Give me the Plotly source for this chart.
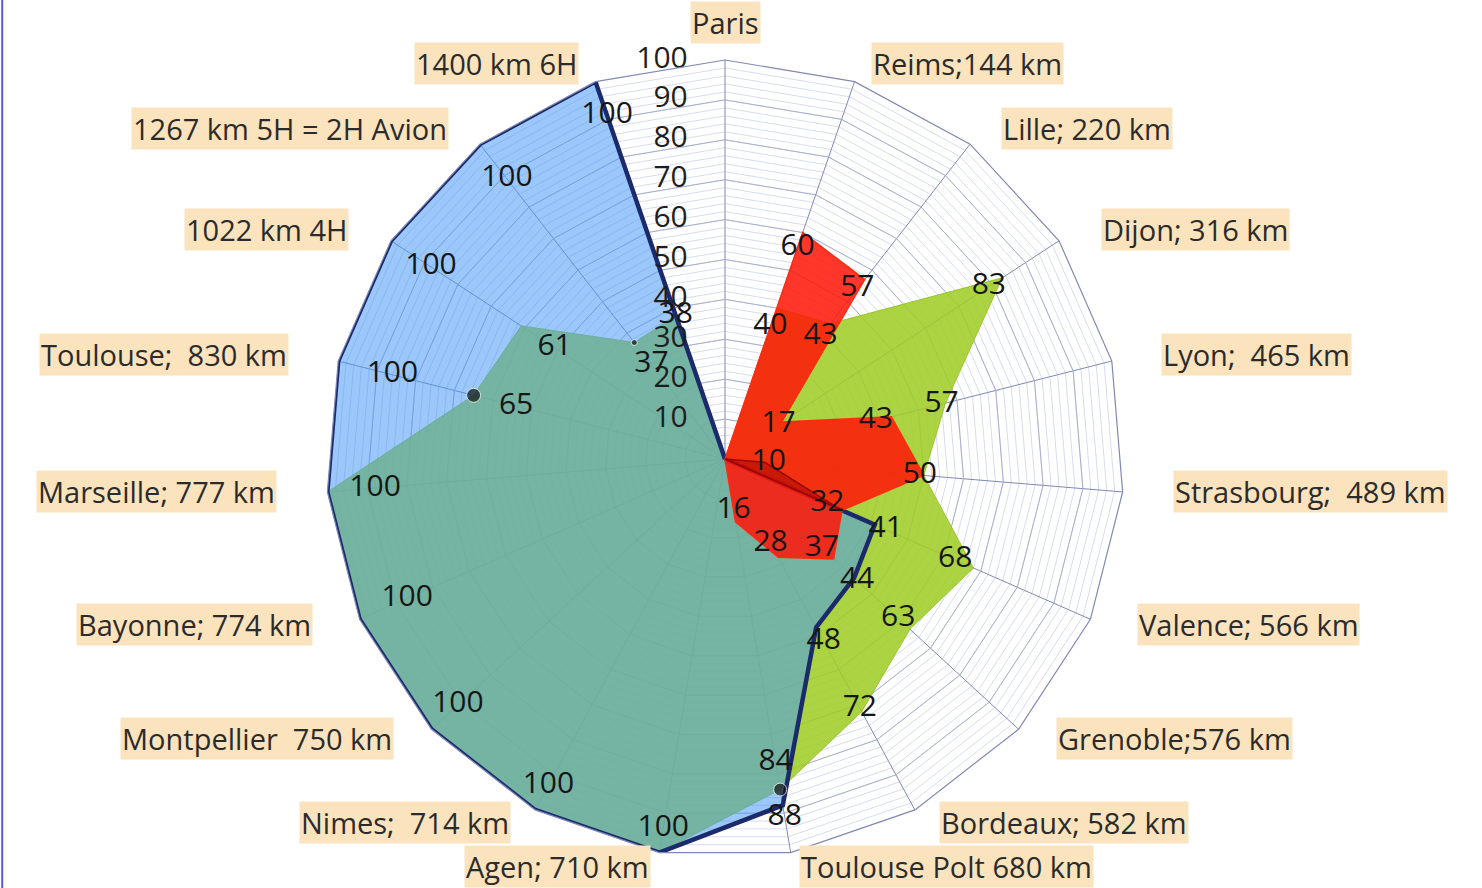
import math
import plotly.graph_objects as go

# ---------------- data ----------------
categories = [
    "Paris", "Reims;144 km", "Lille; 220 km", "Dijon; 316 km", "Lyon;  465 km",
    "Strasbourg;  489 km", "Valence; 566 km", "Grenoble;576 km", "Bordeaux; 582 km",
    "Toulouse Polt 680 km", "Agen; 710 km", "Nimes;  714 km", "Montpellier  750 km",
    "Bayonne; 774 km", "Marseille; 777 km", "Toulouse;  830 km", "1022 km 4H",
    "1267 km 5H = 2H Avion", "1400 km 6H",
]
blue_values = [0, 0, 0, 0, 0, 0, 41, 44, 48, 88, 100, 100, 100, 100, 100, 100, 100, 100, 100]
green_values = [0, 40, 43, 83, 57, 50, 68, 63, 72, 84, 100, 100, 100, 100, 100, 65, 61, 37, 38]
red_values = [0, 60, 57, 17, 43, 50, 32, 37, 28, 16, 0, 0, 0, 0, 0, 0, 0, 0, 0]
darkred_values = [0, 0, 0, 0, 0, 10, 32, 0, 0, 0, 0, 0, 0, 0, 0, 0, 0, 0, 0]
radial_ticks = [0, 10, 20, 30, 40, 50, 60, 70, 80, 90, 100]

# ---------------- label placement (radial offsets of the value labels) ----------------
blue_label_shift = [None, None, None, None, None, None, 3, 1, 4, 3, -6, -7, -9, -13, -12, -14, -12, -11, -9]
green_label_shift = [None, -5, -4, -4, -1, -1, -5, -4, -1, -7, None, None, None, None, None, -11, -10, -7, 0]
red_label_shift = [None, -4, -3, -1, -4, None, -4, -4, -4, -3, None, None, None, None, None, None, None, None, None]
darkred_label_shift = [None, None, None, None, None, 1, None, None, None, None, None, None, None, None, None, None, None, None, None]
green_marker_size = [0, 0, 0, 0, 0, 0, 0, 0, 0, 13, 0, 0, 0, 0, 0, 14, 0, 6, 0]

W, H = 1482, 888
CX, CY, R = 725, 459, 399
FONT = "Open Sans"
LABEL_SIZE = 30
CAT_SIZE = 29

dom_x = [(CX - R) / W, (CX + R) / W]
dom_y = [(H - CY - R) / H, (H - CY + R) / H]


def closed(vals):
    return list(vals) + list(vals[:1])


theta_closed = closed(categories)

fig = go.Figure()

# invisible trace so the minor-grid subplot knows all categories
fig.add_trace(go.Scatterpolar(r=[0] * len(categories), theta=categories, mode="markers",
                              marker=dict(size=1, opacity=0), hoverinfo="skip", subplot="polar"))

fig.add_trace(go.Scatterpolar(r=closed(green_values), theta=theta_closed, mode="lines", fill="toself",
                              fillcolor="rgba(160,205,40,0.88)",
                              line=dict(color="rgba(150,195,35,0.9)", width=1), subplot="polar2",
                              hoverinfo="skip"))
fig.add_trace(go.Scatterpolar(r=closed(blue_values), theta=theta_closed, mode="lines", fill="toself",
                              fillcolor="rgba(70,152,245,0.54)",
                              line=dict(color="#1b2a6b", width=4.5), subplot="polar2", hoverinfo="skip"))
fig.add_trace(go.Scatterpolar(r=closed(red_values), theta=theta_closed, mode="lines", fill="toself",
                              fillcolor="rgba(255,22,8,0.86)",
                              line=dict(color="#ff2a10", width=1.5), subplot="polar2", hoverinfo="skip"))
fig.add_trace(go.Scatterpolar(r=closed(darkred_values), theta=theta_closed, mode="lines", fill="toself",
                              fillcolor="rgba(150,0,0,0.45)",
                              line=dict(color="rgba(140,0,0,0.8)", width=1.5), subplot="polar2",
                              hoverinfo="skip"))
fig.add_trace(go.Scatterpolar(r=green_values, theta=categories, mode="markers",
                              marker=dict(size=green_marker_size, color="#111111"),
                              subplot="polar2", hoverinfo="skip"))


def label_trace(vals, shifts):
    th, rr, tx = [], [], []
    for c, v, s in zip(categories, vals, shifts):
        if s is None:
            continue
        th.append(c)
        rr.append(v + s)
        tx.append(str(v))
    return go.Scatterpolar(r=rr, theta=th, mode="text", text=tx, textposition="middle center",
                           textfont=dict(family=FONT, size=LABEL_SIZE, color="#161616"),
                           subplot="polar2", hoverinfo="skip")


for vals, shifts in [(blue_values, blue_label_shift), (green_values, green_label_shift),
                     (red_values, red_label_shift), (darkred_values, darkred_label_shift)]:
    fig.add_trace(label_trace(vals, shifts))

# radial tick labels, horizontal, left of the Paris spoke
fig.add_trace(go.Scatterpolar(r=radial_ticks, theta=[categories[0]] * len(radial_ticks),
                              mode="markers+text", text=[str(t) for t in radial_ticks],
                              textposition="middle left",
                              marker=dict(size=58, opacity=0),
                              textfont=dict(family=FONT, size=LABEL_SIZE, color="#1e1e1e"),
                              subplot="polar2", hoverinfo="skip"))

# category labels with beige boxes, placed along each spoke
annotations = []
n = len(categories)
RH, RV, K = 428, 396, 1.05
for i, name in enumerate(categories):
    a = math.radians(i * 360.0 / n)
    s, c = math.sin(a), math.cos(a)
    px = CX + K * RH * s
    py = CY - 2 - K * RV * c
    py = min(py, H - 22)
    if s > 0.05:
        xa = "left"
    elif s < -0.05:
        xa = "right"
    else:
        xa = "center"
    ya = "bottom" if c > 0.99 else "middle"
    if ya == "bottom":
        py = max(py, 44)
    annotations.append(dict(x=px / W, y=1 - py / H, xref="paper", yref="paper",
                            text=name.replace("  ", "\u00a0 "), showarrow=False,
                            xanchor=xa, yanchor=ya, bgcolor="#fae3bd", borderpad=1,
                            font=dict(family=FONT, size=CAT_SIZE, color="#2b2b2b")))

fig.update_layout(
    width=W, height=H, margin=dict(l=0, r=0, t=0, b=0),
    paper_bgcolor="white", plot_bgcolor="white", showlegend=False,
    annotations=annotations,
    shapes=[dict(type="line", xref="paper", yref="paper", x0=0.0015, x1=0.0015, y0=0, y1=1,
                 line=dict(color="#5b5bd6", width=2))],
    polar=dict(
        domain=dict(x=dom_x, y=dom_y), gridshape="linear", bgcolor="white",
        radialaxis=dict(range=[0, 100], tickvals=list(range(0, 101, 2)), showticklabels=False,
                        gridcolor="#d8dcee", gridwidth=0.7, showline=False, ticks=""),
        angularaxis=dict(type="category", categoryarray=categories, categoryorder="array",
                         rotation=90, direction="clockwise", showticklabels=False,
                         showgrid=False, showline=False, ticks=""),
    ),
    polar2=dict(
        domain=dict(x=dom_x, y=dom_y), gridshape="linear", bgcolor="rgba(0,0,0,0)",
        radialaxis=dict(range=[0, 100], tickvals=radial_ticks, showticklabels=False,
                        gridcolor="#a9b0cf", gridwidth=1, showline=False, ticks=""),
        angularaxis=dict(type="category", categoryarray=categories, categoryorder="array",
                         rotation=90, direction="clockwise", showticklabels=False,
                         gridcolor="#8088b4", gridwidth=1, showline=True, linecolor="#8088b4",
                         linewidth=1.2, ticks=""),
    ),
)

fig.write_html("out.html", config={"displayModeBar": False},
               post_script="document.body.style.margin='0';document.body.style.overflow='hidden';")
